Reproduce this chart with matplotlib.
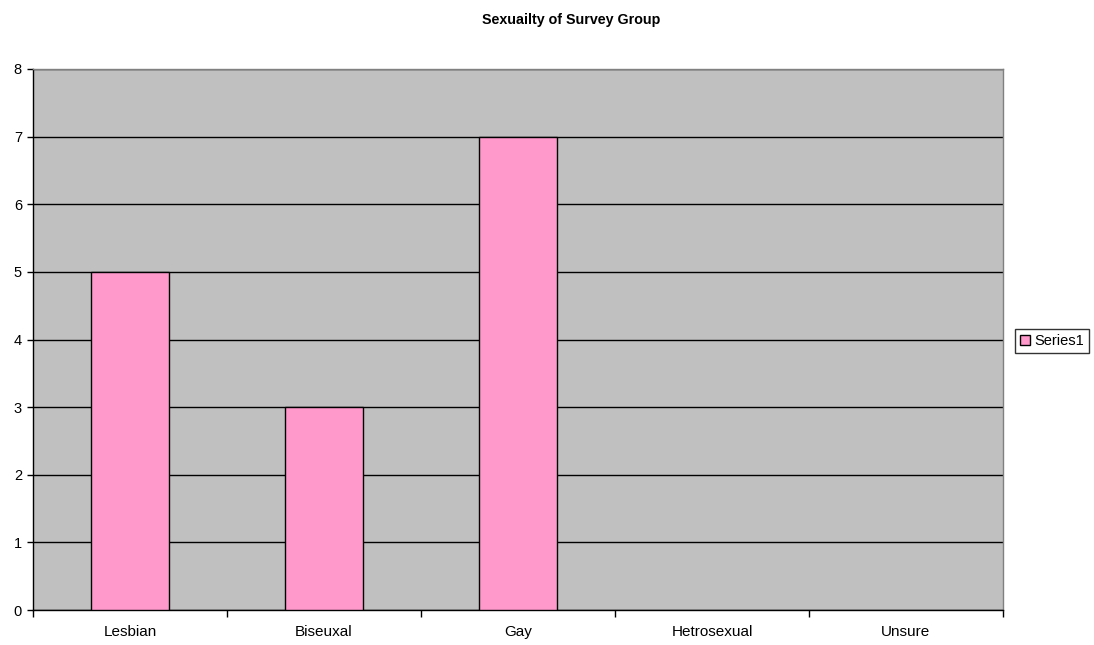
import matplotlib
matplotlib.use("Agg")
import matplotlib.pyplot as plt
from matplotlib.patches import Patch

categories = ["Lesbian", "Biseuxal", "Gay", "Hetrosexual", "Unsure"]
values = [5, 3, 7, 0, 0]
series_name = "Series1"
title = "Sexuailty of Survey Group"

plt.rcParams['font.family'] = ['Liberation Sans', 'DejaVu Sans']

fig = plt.figure(figsize=(10.94, 6.45), dpi=100)
ax = fig.add_axes([33/1094, 1-610/645, 970/1094, 541/645])
ax.set_facecolor('#C0C0C0')

x = list(range(len(categories)))
lw = [1 if v > 0 else 0 for v in values]
ax.bar(x, values, width=0.4, color='#FF99CC', edgecolor='black', linewidth=lw, zorder=3)

ax.set_xlim(-0.5, len(categories) - 0.5)
ax.set_ylim(0, 8)
ax.set_yticks(range(0, 9))
ax.yaxis.grid(True, color='black', linewidth=1, zorder=1)
ax.set_axisbelow(True)

ax.set_xticks(x)
ax.set_xticklabels(categories, fontsize=11)
ax.tick_params(axis='x', length=0, pad=11)
ax.set_xticks([i + 0.5 for i in range(-1, len(categories))], minor=True)
ax.tick_params(axis='x', which='minor', length=5, width=1, color='black', direction='out')
ax.tick_params(axis='y', length=4, width=1, color='black', direction='out', labelsize=10.5, pad=4)

for s in ['top', 'right']:
    ax.spines[s].set_color('#808080')
    ax.spines[s].set_linewidth(1)
for s in ['left', 'bottom']:
    ax.spines[s].set_color('black')
    ax.spines[s].set_linewidth(1)

fig.text(571/1094, 1-20/645, title, ha='center', va='center', fontsize=10.3, fontweight='bold')

handle = Patch(facecolor='#FF99CC', edgecolor='black', linewidth=1)
leg = fig.legend([handle], [series_name], loc='center', bbox_to_anchor=(1052/1094, 1-341/645),
                 frameon=True, fancybox=False, fontsize=10.5, handlelength=0.7, handleheight=0.7,
                 handletextpad=0.25, borderpad=0.35, borderaxespad=0)
leg.get_frame().set_edgecolor('black')
leg.get_frame().set_linewidth(1)

fig.savefig('out.png', dpi=100)
